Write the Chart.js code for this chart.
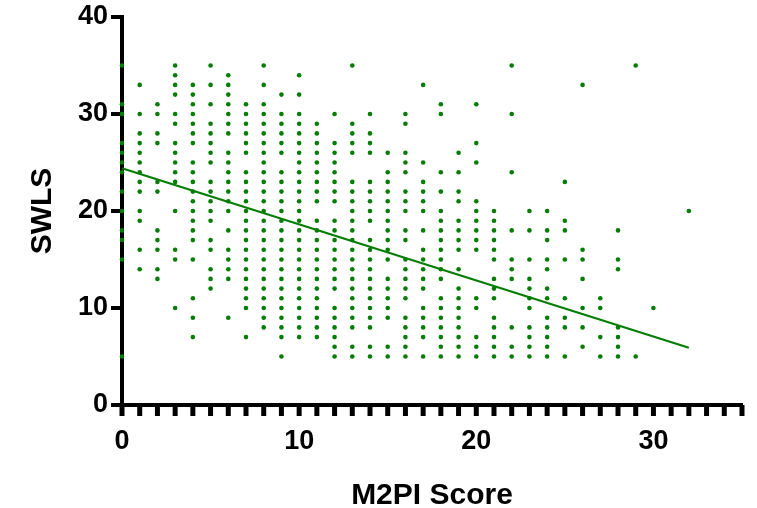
<!DOCTYPE html>
<html>
<head>
<meta charset="utf-8">
<script src="https://cdn.jsdelivr.net/npm/chart.js@4"></script>
<style>
html, body { margin: 0; padding: 0; background: #fff; }
#wrap { width: 757px; height: 508px; }
</style>
</head>
<body>
<div id="wrap"><canvas id="SWLS_Chart"></canvas></div>
<script>
// M2PI score columns (x) and the SWLS values seen in each column
var M2PI_Scores = [0,1,2,3,4,5,6,7,8,9,10,11,12,13,14,15,16,17,18,19,20,21,22,23,24,25,26,27,28,29,30,31,32];
var SWLS_By_Score = [
  [35,31,30,27,26,25,24,22,20,18,17,15,5],
  [33,30,28,27,26,25,24,23,22,20,19,16,14],
  [31,30,28,27,23,22,18,17,16,14,13],
  [35,34,33,32,30,29,27,26,25,24,23,20,16,15,10],
  [33,32,31,30,29,28,27,25,24,23,22,21,20,19,18,17,15,11,9,7],
  [35,33,31,29,28,27,26,25,23,22,21,20,19,17,16,14,13,12],
  [34,33,32,31,30,29,28,26,25,24,23,22,21,20,18,16,15,14,13,9],
  [31,30,29,28,27,26,24,23,22,21,20,19,18,17,16,15,14,13,12,11,10,7],
  [35,33,31,30,29,28,27,26,25,24,23,22,21,20,19,18,17,16,15,14,13,12,11,10,9,8],
  [32,30,29,28,27,26,24,23,22,21,20,19,18,17,16,15,14,13,12,11,10,9,8,7,5],
  [34,32,30,29,28,27,26,25,24,23,22,21,20,19,18,17,16,15,14,13,12,11,10,9,8,7],
  [29,28,27,26,25,24,23,22,21,19,18,17,16,15,14,13,12,11,10,9,8,7],
  [30,27,26,25,24,23,22,21,19,18,17,16,15,14,13,12,10,9,8,7,6,5],
  [35,29,28,27,26,23,22,21,20,19,18,17,16,15,14,13,12,11,10,9,8,6,5],
  [30,28,27,26,23,22,21,20,19,17,16,15,14,13,12,11,10,9,8,6,5],
  [26,24,23,22,21,20,19,18,17,16,15,13,12,11,10,9,6,5],
  [30,29,26,25,24,22,21,20,18,17,15,14,13,12,11,9,8,7,6,5],
  [33,25,23,22,21,20,18,16,15,14,13,12,10,9,8,7,5],
  [31,30,24,22,20,19,18,17,16,15,14,13,11,10,9,8,7,6,5],
  [26,24,22,21,19,18,17,16,14,12,11,10,9,8,7,6,5],
  [31,27,25,21,20,19,18,17,16,11,10,7,6,5],
  [20,19,18,17,16,15,13,12,11,9,8,7,6,5],
  [35,30,24,18,15,14,13,8,6,5],
  [20,18,15,13,12,11,10,8,7,6,5],
  [20,18,17,15,14,12,11,9,8,7,6,5],
  [23,19,18,15,11,9,8,5],
  [33,16,15,13,10,8,6],
  [11,10,7,5],
  [18,15,14,8,7,6,5],
  [35,5],
  [10],
  [],
  [20]
];
// fitted line
var Fit_X = [0, 32];
var Fit_Y = [24.4, 5.9];

var points = [];
M2PI_Scores.forEach(function (s, i) {
  SWLS_By_Score[i].forEach(function (v) { points.push({x: s, y: v}); });
});
var fitLine = Fit_X.map(function (x, i) { return {x: x, y: Fit_Y[i]}; });

var green = 'rgb(5,125,5)';

// black tick marks: every unit on x, every 10 on y
var tickMarks = {
  id: 'tickMarks',
  beforeDatasetsDraw: function (chart) {
    var ctx = chart.ctx, xs = chart.scales.x, ys = chart.scales.y, a = chart.chartArea;
    ctx.save();
    ctx.fillStyle = '#000';
    for (var i = 0; i <= 35; i++) {
      var px = xs.getPixelForValue(i);
      ctx.fillRect(px - 2.5, a.bottom, 5, 11);
    }
    for (var v = 0; v <= 40; v += 10) {
      var py = ys.getPixelForValue(v);
      ctx.fillRect(a.left - 11, py - 2, 11, 4);
    }
    ctx.restore();
  }
};

var ctx1 = document.getElementById('SWLS_Chart');
var SWLSChart = new Chart(ctx1, {
  type: 'scatter',
  data: {
    datasets: [
      {
        data: points,
        backgroundColor: green,
        borderColor: green,
        pointRadius: 2.3,
        pointHoverRadius: 2.3,
        borderWidth: 0,
        clip: false
      },
      {
        type: 'line',
        data: fitLine,
        borderColor: green,
        borderWidth: 2.2,
        pointRadius: 0,
        fill: false,
        clip: false
      }
    ]
  },
  plugins: [tickMarks],
  options: {
    responsive: true,
    maintainAspectRatio: false,
    animation: false,
    events: [],
    layout: { padding: { top: 17, right: 15, left: 0, bottom: 0 } },
    plugins: { legend: { display: false }, tooltip: { enabled: false } },
    scales: {
      x: {
        type: 'linear',
        min: 0,
        max: 35,
        afterFit: function (s) { s.height = 103; s.paddingLeft = 0; s.paddingRight = 0; },
        grid: { display: true, drawOnChartArea: false, drawTicks: false },
        border: { color: '#000', width: 4 },
        ticks: {
          stepSize: 10,
          padding: 20,
          color: '#000',
          font: { family: 'Liberation Sans, Arial', size: 27, weight: 'bold' },
          callback: function (v) { return v % 10 === 0 ? v : ''; }
        },
        title: {
          display: true,
          text: 'M2PI Score',
          color: '#000',
          font: { family: 'Liberation Sans, Arial', size: 30, weight: 'bold' },
          padding: { top: 0, bottom: -6 }
        }
      },
      y: {
        type: 'linear',
        min: 0,
        max: 40,
        afterFit: function (s) { s.width = 122; s.paddingTop = 0; s.paddingBottom = 0; },
        grid: { display: true, drawOnChartArea: false, drawTicks: false },
        border: { color: '#000', width: 4 },
        ticks: {
          stepSize: 10,
          padding: 14,
          color: '#000',
          font: { family: 'Liberation Sans, Arial', size: 27, weight: 'bold' }
        },
        title: {
          display: true,
          text: 'SWLS',
          color: '#000',
          font: { family: 'Liberation Sans, Arial', size: 30, weight: 'bold' },
          padding: { top: 25, bottom: 0 }
        }
      }
    }
  }
});
</script>
</body>
</html>
